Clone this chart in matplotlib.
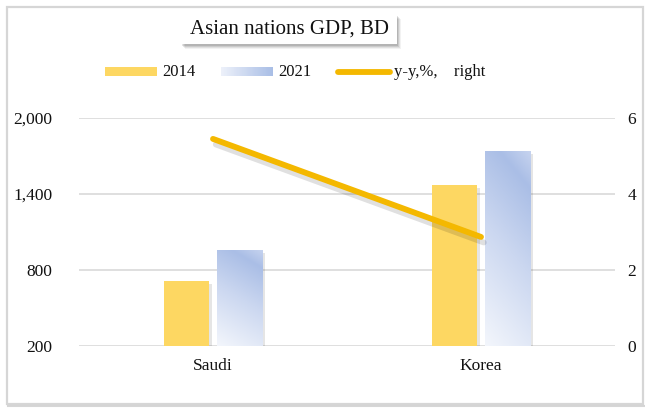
import numpy as np
import matplotlib
matplotlib.use("Agg")
import matplotlib.pyplot as plt
import matplotlib.patheffects as pe
from matplotlib.patches import Rectangle, FancyBboxPatch
from matplotlib.colors import LinearSegmentedColormap

# ---------------- data ----------------
categories = ['Saudi', 'Korea']
gdp_2014 = [710, 1470]
gdp_2021 = [960, 1740]
yoy_pct = [5.45, 2.87]
left_ticks = [200, 800, 1400, 2000]
left_tick_labels = ['200', '800', '1,400', '2,000']
right_ticks = [0, 2, 4, 6]
right_tick_labels = ['0', '2', '4', '6']
title = 'Asian nations GDP, BD'
legend_labels = ['2014', '2021', 'y-y,%,    right']

# ---------------- style ----------------
FONT = 'Liberation Serif'
plt.rcParams['font.family'] = [FONT, 'DejaVu Serif']
TXT = '#111111'
YEL = '#FDD762'
LINE = '#F4B800'
GRID = '#D9D9D9'
W, H = 645, 409

blue_cmap = LinearSegmentedColormap.from_list(
    'bl', [(0.0, '#F3F6FC'), (0.5, '#CBD7F0'), (0.85, '#AABEE6'), (1.0, '#C6D3EF')])

fig = plt.figure(figsize=(W / 100, H / 100), dpi=100)
fig.patch.set_facecolor('white')

# overlay (underneath) for frame and title box shadow
ov = fig.add_axes([0, 0, 1, 1], zorder=0)
ov.set_xlim(0, W)
ov.set_ylim(H, 0)
ov.axis('off')

ax = fig.add_axes([79 / W, 1 - 346 / H, (615 - 79) / W, (346 - 118) / H], zorder=1)
ax.patch.set_visible(False)
ax2 = ax.twinx()

x = np.arange(len(categories))
bw = 0.168
off = 0.098


def soft_shadow_bar(axis, patch):
    # soft shadow drawn as several translucent offset copies
    for k, a in [(4, 0.04), (3, 0.06), (2, 0.08)]:
        pass


shadow = [pe.SimplePatchShadow(offset=(2, -2), shadow_rgbFace='#000000', alpha=0.10), pe.Normal()]

b1 = ax.bar(x - off, gdp_2014, bw, bottom=0, color=YEL, zorder=3)
b2 = ax.bar(x + off, gdp_2021, bw, bottom=0, color='#C6D3EF', zorder=3)
for p in list(b1) + list(b2):
    p.set_path_effects(shadow)

# gradient fill for 2021 bars
ny, nx = 100, 40
uu, vv = np.meshgrid(np.linspace(0, 1, nx), np.linspace(0, 1, ny))
for p in b2:
    x0, y0 = p.get_x(), 200
    x1, y1 = x0 + p.get_width(), p.get_height()
    t = 0.22 * uu + 0.78 * vv
    im = ax.imshow(t, cmap=blue_cmap, origin='lower', extent=[x0, x1, y0, y1],
                   aspect='auto', zorder=3.5, vmin=0, vmax=1, interpolation='bilinear')
    im.set_clip_path(p)

ax.set_xlim(-0.5, len(categories) - 0.5)
ax.set_ylim(200, 2000)
ax.set_yticks(left_ticks)
ax.set_yticklabels(left_tick_labels)
ax.set_xticks(x)
ax.set_xticklabels(categories)
ax.grid(axis='y', color=GRID, linewidth=1.2, zorder=0)
ax.set_axisbelow(True)
ax.tick_params(axis='both', length=0, labelsize=12.5, colors=TXT)
ax.tick_params(axis='y', pad=19)
ax.tick_params(axis='x', pad=9)
for s in ax.spines.values():
    s.set_visible(False)

ax2.plot(x, yoy_pct, color=LINE, linewidth=4.2, solid_capstyle='round', zorder=5,
         path_effects=[pe.SimpleLineShadow(offset=(2, -4), shadow_color='#000000', alpha=0.12),
                       pe.Normal()])
ax2.set_ylim(0, 6)
ax2.set_yticks(right_ticks)
ax2.set_yticklabels(right_tick_labels)
ax2.tick_params(axis='y', length=0, labelsize=12.5, colors=TXT, pad=9)
for s in ax2.spines.values():
    s.set_visible(False)

# ---------------- frame, title, legend ----------------
ov.plot([8, 644], [406, 406], color='#BBBBBB', linewidth=1.5, alpha=0.6)
ov.add_patch(Rectangle((7, 7), 636, 397, fill=False, edgecolor='#D6D6D6', linewidth=1.6))

for k, a in [(5, 0.05), (4, 0.07), (3, 0.09), (2, 0.11)]:
    ov.add_patch(Rectangle((181 + k - 1, 14 + k), 216, 30, facecolor='#000000',
                           edgecolor='none', alpha=a))
ov.add_patch(Rectangle((181, 14), 216, 30, facecolor='white', edgecolor='none'))
ov.text(289, 29.5, title, ha='center', va='center', fontsize=15, color=TXT, family=FONT)

# legend
ov.add_patch(Rectangle((105, 67), 52, 9, facecolor=YEL, edgecolor='none'))
ov.text(162, 72, legend_labels[0], ha='left', va='center', fontsize=12, color=TXT)
lg = np.linspace(0, 1, 60)[None, :]
ov.imshow(lg, cmap=LinearSegmentedColormap.from_list('lb', ['#EDF1FA', '#A9BEE6']),
          extent=[221, 273, 76, 67], aspect='auto', interpolation='bilinear')
ov.text(278, 72, legend_labels[1], ha='left', va='center', fontsize=12, color=TXT)
ov.plot([338, 390], [72, 72], color=LINE, linewidth=4.2, solid_capstyle='round')
ov.text(394, 72, legend_labels[2], ha='left', va='center', fontsize=12, color=TXT)
ov.set_xlim(0, W)
ov.set_ylim(H, 0)

fig.savefig('out.png', dpi=100, facecolor='white')
